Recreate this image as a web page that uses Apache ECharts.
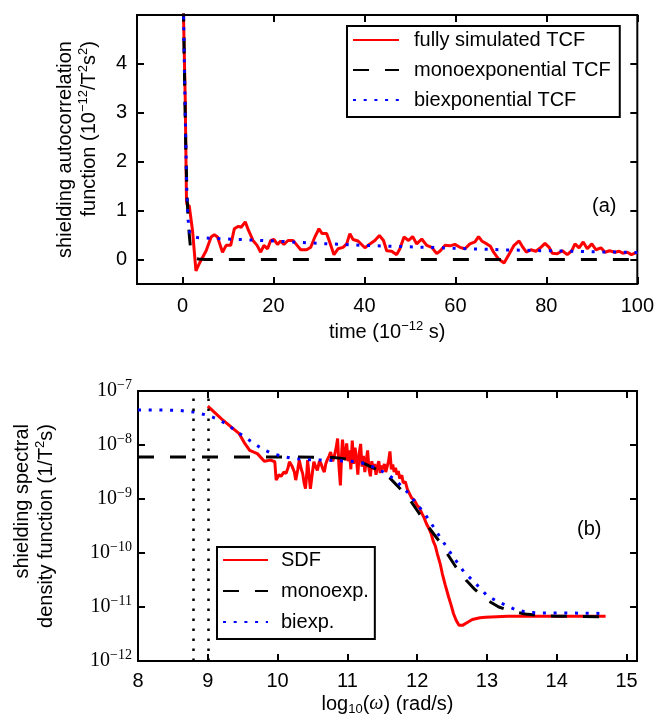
<!DOCTYPE html>
<html><head><meta charset="utf-8">
<script src="https://cdn.jsdelivr.net/npm/echarts@6/dist/echarts.min.js"></script>
<style>html,body{margin:0;padding:0;background:#fff}#c{width:657px;height:720px}</style>
</head><body><div id="c"></div><script>
// ---------- panel (a): time correlation functions, [time (1e-12 s), value (1e-12/T^2 s^2)] ----------
const tcfSimulated = [[0,6.2],[0.22,5.0],[0.6,3.3],[0.88,1.2],[1.0,1.12],[1.48,1.1],[2.2,0.6],[2.96,-0.23],[3.5,-0.12],[4.05,-0.02],[5.2,0.18],[6.3,0.46],[7.0,0.51],[7.7,0.46],[8.8,0.15],[9.6,0.29],[10.6,0.29],[11.4,0.63],[12.3,0.68],[12.9,0.66],[13.8,0.77],[14.5,0.6],[15.5,0.39],[16.4,0.29],[17.2,0.15],[17.9,0.29],[18.7,0.22],[19.4,0.39],[20.1,0.41],[20.9,0.31],[21.6,0.38],[22.3,0.31],[23.2,0.39],[24.3,0.39],[25.2,0.29],[26.0,0.2],[27.3,0.2],[28.2,0.25],[29.1,0.46],[30.0,0.63],[30.7,0.53],[31.7,0.53],[32.4,0.35],[33.3,0.1],[34.2,0.22],[35.3,0.25],[36.1,0.32],[36.8,0.53],[37.5,0.41],[38.6,0.38],[40.1,0.24],[41.2,0.32],[42.3,0.39],[43.3,0.49],[44.2,0.39],[44.9,0.18],[46.0,0.17],[47.1,0.10],[47.8,0.22],[48.7,0.46],[49.7,0.39],[50.6,0.47],[51.5,0.32],[52.6,0.42],[53.7,0.29],[54.8,0.25],[55.9,0.12],[56.7,0.18],[57.7,0.29],[58.8,0.28],[59.9,0.31],[61.0,0.25],[62.1,0.22],[63.2,0.32],[64.3,0.36],[65.1,0.47],[65.8,0.38],[66.9,0.32],[67.7,0.27],[68.4,0.15],[69.5,0.01],[70.7,-0.07],[71.8,0.11],[72.9,0.29],[74.0,0.38],[74.7,0.27],[75.6,0.15],[76.6,0.2],[77.7,0.17],[78.8,0.25],[79.7,0.33],[80.6,0.25],[81.3,0.13],[82.4,0.12],[83.5,0.18],[84.6,0.1],[85.6,0.18],[86.3,0.32],[87.2,0.24],[88.1,0.36],[89.0,0.22],[90.0,0.32],[90.9,0.2],[92.0,0.24],[92.9,0.15],[93.9,0.18],[95.1,0.15],[96.0,0.17],[96.8,0.13],[97.8,0.15],[98.7,0.1],[99.5,0.13],[100,0.15]];
const tcfMono = [[0,6.5],[0.4,4.0],[0.7,2.4],[1.0,1.3],[1.3,0.75],[1.5,0.5],[1.85,0.15],[2.3,0.07],[2.8,0.03],[3.5,0.01],[5,0],[100,0]];
const tcfBi = [[0,6.5],[0.3,4.6],[0.6,3.0],[0.9,1.6],[1.1,1.0],[1.3,0.75],[1.6,0.55],[2.2,0.47],[3.3,0.45],[5,0.44],[10,0.42],[20,0.38],[30,0.33],[40,0.29],[50,0.26],[60,0.23],[70,0.2],[80,0.18],[90,0.16],[100,0.145]];
const tcfXTicks = [0,20,40,60,80,100];
const tcfYTicks = [0,1,2,3,4];

// ---------- panel (b): spectral density, [log10(omega), log10(SDF in 1/T^2 s)] ----------
const sdfLog = [[9.0,-7.28],[9.2,-7.52],[9.45,-7.79],[9.52,-7.95],[9.6,-8.1],[9.71,-8.16],[9.81,-8.3],[9.9,-8.28],[9.96,-8.31],[9.98,-8.65],[10.02,-8.55],[10.05,-8.58],[10.09,-8.5],[10.12,-8.53],[10.15,-8.42],[10.17,-8.31],[10.21,-8.4],[10.24,-8.5],[10.26,-8.65],[10.29,-8.45],[10.31,-8.28],[10.34,-8.45],[10.36,-8.53],[10.38,-8.7],[10.4,-8.81],[10.42,-8.5],[10.43,-8.28],[10.45,-8.55],[10.47,-8.81],[10.5,-8.5],[10.52,-8.31],[10.55,-8.42],[10.57,-8.47],[10.6,-8.3],[10.62,-8.34],[10.65,-8.45],[10.67,-8.5],[10.69,-8.35],[10.71,-8.28],[10.74,-8.2],[10.76,-8.13],[10.79,-8.3],[10.81,-8.22],[10.84,-8.05],[10.86,-7.88],[10.88,-8.4],[10.9,-8.75],[10.92,-8.1],[10.93,-7.9],[10.95,-8.15],[10.97,-8.28],[10.99,-7.97],[11.01,-8.3],[11.03,-8.1],[11.05,-8.45],[11.07,-7.92],[11.09,-8.35],[11.11,-8.05],[11.13,-8.25],[11.15,-8.55],[11.17,-8.15],[11.19,-7.98],[11.21,-8.4],[11.23,-8.2],[11.25,-8.5],[11.27,-8.3],[11.29,-8.1],[11.31,-8.45],[11.33,-8.58],[11.35,-8.3],[11.37,-8.45],[11.39,-8.35],[11.41,-8.55],[11.43,-8.4],[11.45,-8.3],[11.47,-8.52],[11.49,-8.38],[11.51,-8.45],[11.53,-8.35],[11.55,-8.5],[11.57,-8.4],[11.59,-8.3],[11.61,-8.12],[11.63,-8.45],[11.65,-8.36],[11.67,-8.5],[11.69,-8.42],[11.71,-8.55],[11.73,-8.48],[11.75,-8.62],[11.78,-8.56],[11.8,-8.7],[11.83,-8.68],[11.86,-8.82],[11.88,-8.8],[11.92,-8.98],[11.96,-9.02],[12.0,-9.12],[12.03,-9.16],[12.07,-9.27],[12.1,-9.35],[12.13,-9.45],[12.17,-9.55],[12.2,-9.64],[12.23,-9.78],[12.26,-9.87],[12.29,-10.02],[12.33,-10.2],[12.36,-10.38],[12.4,-10.58],[12.45,-10.81],[12.49,-10.98],[12.52,-11.12],[12.56,-11.25],[12.6,-11.34],[12.65,-11.34],[12.7,-11.3],[12.79,-11.23],[12.9,-11.2],[12.98,-11.19],[13.3,-11.17],[14.0,-11.17],[14.7,-11.17]];
const monoLog = [[8,-8.22],[10,-8.22],[10.8,-8.23],[11.0,-8.26],[11.2,-8.32],[11.45,-8.47],[11.6,-8.6],[11.75,-8.8],[11.9,-9.02],[12.02,-9.25],[12.15,-9.5],[12.31,-9.77],[12.45,-10.05],[12.55,-10.25],[12.7,-10.5],[12.83,-10.68],[13.0,-10.87],[13.17,-11.0],[13.35,-11.08],[13.55,-11.13],[13.8,-11.16],[14.0,-11.17],[14.7,-11.18]];
const biLog = [[8,-7.35],[8.3,-7.35],[8.6,-7.36],[8.8,-7.39],[9.0,-7.45],[9.16,-7.53],[9.29,-7.63],[9.41,-7.75],[9.54,-7.86],[9.66,-7.97],[9.79,-8.08],[9.93,-8.16],[10.07,-8.21],[10.22,-8.25],[10.4,-8.27],[10.7,-8.28],[11.0,-8.3],[11.15,-8.31],[11.29,-8.36],[11.43,-8.44],[11.56,-8.53],[11.68,-8.64],[11.8,-8.79],[11.9,-8.93],[11.99,-9.09],[12.09,-9.24],[12.17,-9.39],[12.33,-9.71],[12.5,-10.04],[12.67,-10.35],[12.82,-10.54],[13.01,-10.8],[13.17,-10.91],[13.41,-11.05],[13.59,-11.1],[13.8,-11.11],[14.05,-11.11],[14.7,-11.12]];
const cutoffX = [8.79, 9.0];
const sdfXTicks = [8,9,10,11,12,13,14,15];

const toVal = arr => arr.map(p => [p[0], Math.pow(10, p[1])]);

const FONT = 'Liberation Sans';
const BLK = '#000';
const tickStyle = {inside:true, length:7, lineStyle:{color:BLK, width:2}};
const noLine = {show:false, onZero:false};
const lbl = {color:BLK, fontSize:20, fontFamily:FONT};
const nameRich = {
  a:{fontSize:20, fontFamily:FONT, color:BLK, lineHeight:24, align:'right'},
  s:{fontSize:13, fontFamily:FONT, color:BLK, lineHeight:13, verticalAlign:'top', align:'right'},
  sub:{fontSize:13, fontFamily:FONT, color:BLK, lineHeight:13, verticalAlign:'bottom'},
  i:{fontSize:20, fontFamily:'Liberation Serif', fontStyle:'italic', color:BLK, lineHeight:24}
};
const legendCommon = {
  orient:'vertical', borderColor:BLK, borderWidth:2, borderRadius:0, backgroundColor:'#fff',
  itemStyle:{color:'transparent', borderWidth:0, opacity:0},
  textStyle:{color:BLK, fontSize:20, fontFamily:FONT}
};

const chart = echarts.init(document.getElementById('c'), null, {renderer:'canvas'});
chart.setOption({
  animation:false,
  backgroundColor:'#fff',
  grid:[
    {left:137, top:15, width:501, height:269, show:true, borderColor:BLK, borderWidth:2, backgroundColor:'transparent'},
    {left:138, top:391, width:499, height:270, show:true, borderColor:BLK, borderWidth:2, backgroundColor:'transparent'}
  ],
  xAxis:[
    {gridIndex:0, type:'value', min:-10, max:100, position:'bottom',
     axisLine:noLine, splitLine:{show:false},
     axisTick:Object.assign({customValues:tcfXTicks}, tickStyle),
     axisLabel:Object.assign({customValues:tcfXTicks, margin:12}, lbl),
     name:'{a|time (10}{s|−12}{a| s)}', nameLocation:'middle', nameGap:36,
     nameTextStyle:{rich:nameRich}},
    {gridIndex:0, type:'value', min:-10, max:100, position:'top',
     axisLine:noLine, splitLine:{show:false},
     axisTick:Object.assign({customValues:tcfXTicks}, tickStyle),
     axisLabel:{show:false}},
    {gridIndex:1, type:'value', min:8, max:15.15, position:'bottom',
     axisLine:noLine, splitLine:{show:false},
     axisTick:Object.assign({customValues:sdfXTicks}, tickStyle),
     axisLabel:Object.assign({customValues:sdfXTicks, margin:10}, lbl),
     name:'{a|log}{sub|10}{a|(}{i|ω}{a|) (rad/s)}', nameLocation:'middle', nameGap:31,
     nameTextStyle:{rich:nameRich}},
    {gridIndex:1, type:'value', min:8, max:15.15, position:'top',
     axisLine:noLine, splitLine:{show:false},
     axisTick:Object.assign({customValues:sdfXTicks}, tickStyle),
     axisLabel:{show:false}}
  ],
  yAxis:[
    {gridIndex:0, type:'value', min:-0.5, max:5, position:'left',
     axisLine:noLine, splitLine:{show:false},
     axisTick:Object.assign({customValues:tcfYTicks}, tickStyle),
     axisLabel:Object.assign({customValues:tcfYTicks, margin:10}, lbl),
     name:'{a|shielding autocorrelation}\n{a|function (10}{s|−12}{a|/T}{s|2}{a|s}{s|2}{a|)}',
     nameLocation:'middle', nameRotate:90, nameGap:36,
     nameTextStyle:{rich:nameRich}},
    {gridIndex:0, type:'value', min:-0.5, max:5, position:'right',
     axisLine:noLine, splitLine:{show:false},
     axisTick:Object.assign({customValues:tcfYTicks}, tickStyle),
     axisLabel:{show:false}},
    {gridIndex:1, type:'log', logBase:10, min:1e-12, max:1e-7, position:'left',
     axisLine:noLine, splitLine:{show:false}, minorTick:{show:false},
     axisTick:tickStyle,
     axisLabel:{margin:6, formatter:function(v){
        const e = Math.round(Math.log10(v));
        return '{b|10}{s|−' + Math.abs(e) + '}';
     }, rich:{
        b:{fontSize:20, fontFamily:'Liberation Serif', color:BLK, lineHeight:26},
        s:{fontSize:14, fontFamily:'Liberation Serif', color:BLK, lineHeight:12, verticalAlign:'top'}
     }},
     name:'{a|shielding spectral}\n{a|density function (1/T}{s|2}{a|s)}',
     nameLocation:'middle', nameRotate:90, nameGap:80,
     nameTextStyle:{rich:nameRich}},
    {gridIndex:1, type:'log', logBase:10, min:1e-12, max:1e-7, position:'right',
     axisLine:noLine, splitLine:{show:false},
     axisTick:tickStyle, axisLabel:{show:false}}
  ],
  legend:[
    Object.assign({}, legendCommon, {
     data:['fully simulated TCF','monoexponential TCF','biexponential TCF'],
     left:347, top:26, padding:[4,9,7,5], itemWidth:46, itemHeight:14, itemGap:10,
     textStyle:{color:BLK, fontSize:20, fontFamily:FONT, padding:[0,0,0,10]}}),
    Object.assign({}, legendCommon, {
     data:['SDF','monoexp.','biexp.'],
     left:217, top:547, padding:[3,6,7,5], itemWidth:45, itemHeight:14, itemGap:11,
     textStyle:{color:BLK, fontSize:20, fontFamily:FONT, padding:[0,0,0,8]}})
  ],
  graphic:[
    {type:'text', left:592, top:196, style:{text:'(a)', fontSize:20, fontFamily:FONT, fill:BLK}},
    {type:'text', left:577, top:519, style:{text:'(b)', fontSize:20, fontFamily:FONT, fill:BLK}}
  ],
  series:[
    {name:'fully simulated TCF', type:'line', xAxisIndex:0, yAxisIndex:0, data:tcfSimulated,
     symbol:'none', lineStyle:{color:'#ff0000', width:3}, itemStyle:{color:'#ff0000'}},
    {name:'monoexponential TCF', type:'line', xAxisIndex:0, yAxisIndex:0, data:tcfMono,
     symbol:'none', lineStyle:{color:BLK, width:3, type:[16,16], cap:'butt'}, itemStyle:{color:BLK}},
    {name:'biexponential TCF', type:'line', xAxisIndex:0, yAxisIndex:0, data:tcfBi,
     symbol:'none', lineStyle:{color:'#0000ff', width:3, type:[3,7.7], cap:'butt'}, itemStyle:{color:'#0000ff'}},
    {name:'SDF', type:'line', xAxisIndex:2, yAxisIndex:2, data:toVal(sdfLog),
     symbol:'none', lineStyle:{color:'#ff0000', width:3}, itemStyle:{color:'#ff0000'}},
    {name:'monoexp.', type:'line', xAxisIndex:2, yAxisIndex:2, data:toVal(monoLog),
     symbol:'none', lineStyle:{color:BLK, width:3, type:[16,16], cap:'butt'}, itemStyle:{color:BLK},
     markLine:{silent:true, symbol:'none', label:{show:false},
       lineStyle:{color:BLK, width:2.5, type:[2.5,7.5], cap:'butt'},
       data:cutoffX.map(x => ({xAxis:x}))}},
    {name:'biexp.', type:'line', xAxisIndex:2, yAxisIndex:2, data:toVal(biLog),
     symbol:'none', lineStyle:{color:'#0000ff', width:3, type:[3,7.7], cap:'butt'}, itemStyle:{color:'#0000ff'}}
  ]
});
</script></body></html>
